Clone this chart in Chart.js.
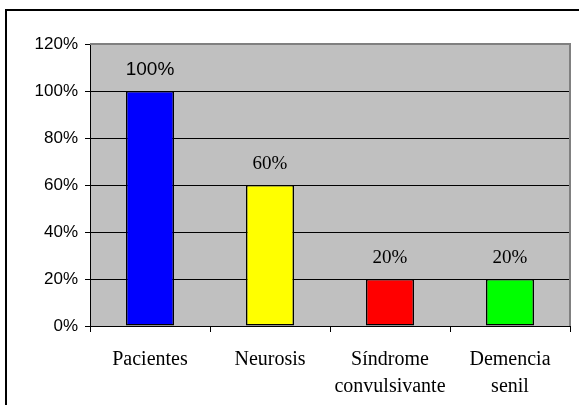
<!DOCTYPE html>
<html><head><meta charset="utf-8">
<script src="https://cdn.jsdelivr.net/npm/chart.js@4/dist/chart.umd.min.js"></script>
<style>html,body{margin:0;padding:0;background:#fff;}#wrap{width:579px;height:405px;}</style>
</head><body><div id="wrap"><canvas id="c" width="579" height="405"></canvas></div>
<script>
const categories = [["Pacientes"], ["Neurosis"], ["Síndrome", "convulsivante"], ["Demencia", "senil"]];
const values = [1.0, 0.6, 0.2, 0.2];
const valueLabels = ["100%", "60%", "20%", "20%"];
const barColors = ["#0000ff", "#ffff00", "#ff0000", "#00ff00"];
const yTicks = [0, 0.2, 0.4, 0.6, 0.8, 1.0, 1.2];

const decor = {
  id: 'decor',
  beforeDraw(chart) {
    const {ctx, chartArea: a} = chart;
    ctx.save();
    ctx.fillStyle = '#c0c0c0';
    ctx.fillRect(a.left, a.top, a.right - a.left, a.bottom - a.top);
    ctx.restore();
  },
  afterDatasetsDraw(chart) {
    const {ctx, chartArea: a} = chart;
    ctx.save();
    ctx.strokeStyle = '#808080';
    ctx.lineWidth = 2;
    ctx.beginPath();
    ctx.moveTo(a.left, a.top); ctx.lineTo(a.right, a.top); ctx.lineTo(a.right, a.bottom);
    ctx.stroke();
    // frame
    ctx.strokeStyle = '#000';
    ctx.lineWidth = 2;
    ctx.beginPath();
    ctx.moveTo(6, 405); ctx.lineTo(6, 10); ctx.lineTo(579, 10);
    ctx.stroke();
    // value labels
    const meta = chart.getDatasetMeta(0);
    const ys = chart.scales.y;
    meta.data.forEach((bar, i) => {
      ctx.fillStyle = '#000';
      ctx.textAlign = 'center';
      ctx.textBaseline = 'middle';
      ctx.font = i === 0 ? '19px "Liberation Sans", Arial' : '19px "Liberation Serif", "Times New Roman"';
      ctx.fillText(valueLabels[i], bar.x, ys.getPixelForValue(values[i]) - 21);
    });
    ctx.restore();
  }
};

new Chart(document.getElementById('c'), {
  type: 'bar',
  data: {
    labels: categories,
    datasets: [{
      data: values,
      backgroundColor: barColors,
      borderColor: '#000',
      borderWidth: 1.5,
      borderSkipped: false,
      barPercentage: 0.4,
      categoryPercentage: 1.0
    }]
  },
  options: {
    responsive: false,
    animation: false,
    devicePixelRatio: 1,
    layout: { padding: { left: 0, top: 44, right: 9, bottom: 0 } },
    plugins: { legend: { display: false }, tooltip: { enabled: false }, title: { display: false } },
    scales: {
      x: {
        offset: true,
        grid: { offset: true, drawOnChartArea: false, color: '#000', tickLength: 6, tickColor: '#000' },
        border: { color: '#000', width: 1 },
        ticks: { color: '#000', font: { family: '"Liberation Serif", "Times New Roman"', size: 20, lineHeight: 1.35 }, padding: 14, maxRotation: 0, autoSkip: false },
        afterFit(s) { s.height = 79; }
      },
      y: {
        min: 0, max: 1.2,
        afterBuildTicks(s) { s.ticks = yTicks.map(v => ({ value: v })); },
        grid: {
          color: (c) => (c.tick && c.tick.value >= 1.19) ? '#808080' : '#000',
          tickColor: '#000', tickLength: 5
        },
        border: { color: '#000', width: 1 },
        ticks: {
          color: '#000', padding: 7,
          font: { family: '"Liberation Sans", Arial', size: 17 },
          callback: (v) => Math.round(v * 100) + '%'
        },
        afterFit(s) { s.width = 90; }
      }
    }
  },
  plugins: [decor]
});
</script></body></html>
